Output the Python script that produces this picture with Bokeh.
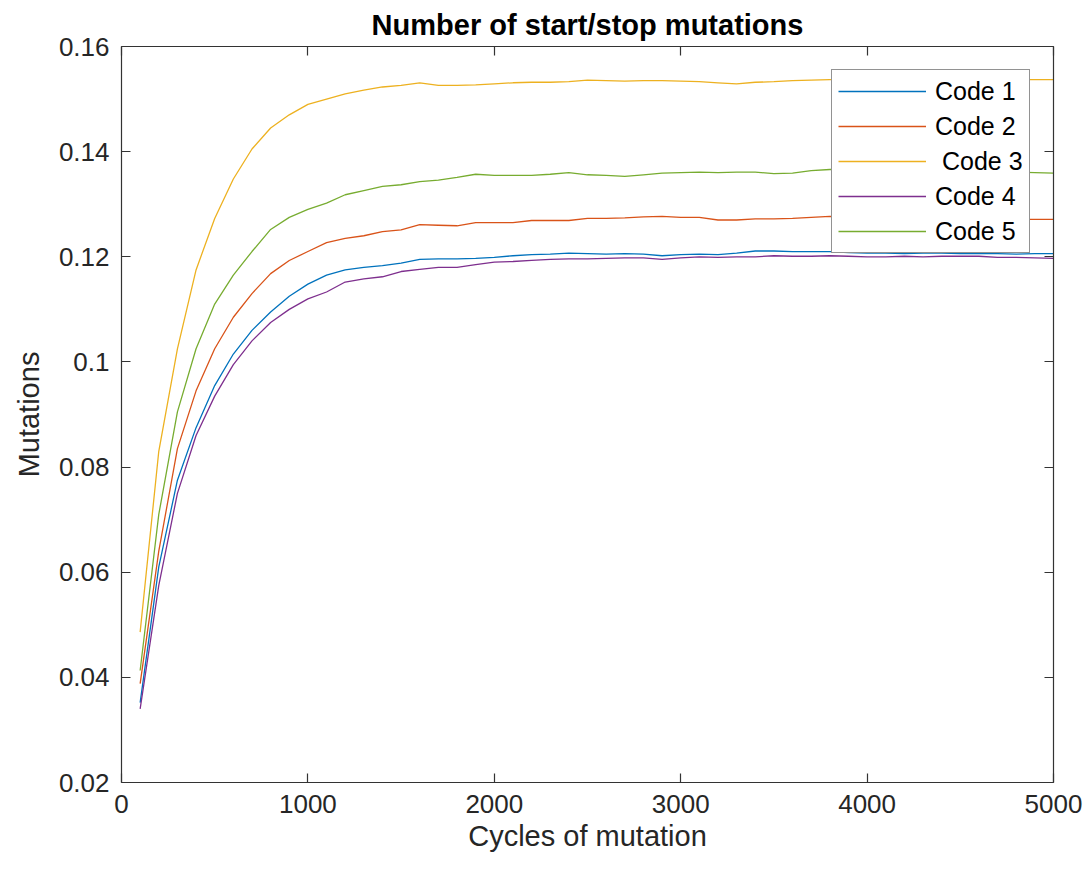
from bokeh.plotting import figure
from bokeh.models import (LinearAxis, FixedTicker, Legend, LegendItem,
                          CustomJSTickFormatter)
from bokeh.embed import file_html
from bokeh.resources import INLINE

cycles = [100, 200, 300, 400, 500, 600, 700, 800, 900, 1000,
          1100, 1200, 1300, 1400, 1500, 1600, 1700, 1800, 1900, 2000,
          2100, 2200, 2300, 2400, 2500, 2600, 2700, 2800, 2900, 3000,
          3100, 3200, 3300, 3400, 3500, 3600, 3700, 3800, 3900, 4000,
          4100, 4200, 4300, 4400, 4500, 4600, 4700, 4800, 4900, 5000]

code1 = [0.0352, 0.0610, 0.0775, 0.0875, 0.0955, 0.1015, 0.1060, 0.1095, 0.1125, 0.1148,
         0.1165, 0.1175, 0.1180, 0.1183, 0.1188, 0.1195, 0.1196, 0.1196, 0.1197, 0.1199,
         0.1202, 0.1204, 0.1205, 0.1207, 0.1206, 0.1205, 0.1206, 0.1205, 0.1202, 0.1204,
         0.1205, 0.1204, 0.1207, 0.1211, 0.1211, 0.1210, 0.1210, 0.1210, 0.1208, 0.1207,
         0.1207, 0.1206, 0.1207, 0.1207, 0.1206, 0.1206, 0.1206, 0.1205, 0.1206, 0.1206]

code2 = [0.0388, 0.0640, 0.0835, 0.0945, 0.1025, 0.1085, 0.1130, 0.1168, 0.1193, 0.1210,
         0.1227, 0.1235, 0.1240, 0.1248, 0.1251, 0.1261, 0.1260, 0.1259, 0.1265, 0.1265,
         0.1265, 0.1269, 0.1269, 0.1269, 0.1273, 0.1273, 0.1274, 0.1276, 0.1277, 0.1275,
         0.1275, 0.1270, 0.1270, 0.1272, 0.1272, 0.1273, 0.1275, 0.1277, 0.1276, 0.1275,
         0.1275, 0.1274, 0.1274, 0.1273, 0.1273, 0.1272, 0.1272, 0.1271, 0.1271, 0.1271]

code3 = [0.0486, 0.0830, 0.1025, 0.1175, 0.1273, 0.1348, 0.1405, 0.1445, 0.1470, 0.1490,
         0.1500, 0.1510, 0.1517, 0.1523, 0.1526, 0.1531, 0.1526, 0.1526, 0.1527, 0.1529,
         0.1531, 0.1532, 0.1532, 0.1533, 0.1536, 0.1535, 0.1534, 0.1535, 0.1535, 0.1534,
         0.1533, 0.1531, 0.1529, 0.1532, 0.1533, 0.1535, 0.1536, 0.1537, 0.1537, 0.1537,
         0.1536, 0.1537, 0.1537, 0.1538, 0.1537, 0.1537, 0.1538, 0.1537, 0.1537, 0.1537]

code4 = [0.0340, 0.0575, 0.0750, 0.0860, 0.0935, 0.0995, 0.1040, 0.1075, 0.1100, 0.1120,
         0.1133, 0.1152, 0.1158, 0.1162, 0.1172, 0.1176, 0.1180, 0.1180, 0.1185, 0.1190,
         0.1191, 0.1193, 0.1195, 0.1196, 0.1196, 0.1197, 0.1198, 0.1198, 0.1195, 0.1198,
         0.1200, 0.1199, 0.1200, 0.1200, 0.1202, 0.1201, 0.1201, 0.1202, 0.1201, 0.1200,
         0.1200, 0.1201, 0.1200, 0.1201, 0.1201, 0.1201, 0.1199, 0.1199, 0.1198, 0.1197]

code5 = [0.0413, 0.0710, 0.0905, 0.1025, 0.1110, 0.1165, 0.1210, 0.1252, 0.1275, 0.1290,
         0.1302, 0.1318, 0.1326, 0.1334, 0.1337, 0.1343, 0.1346, 0.1351, 0.1357, 0.1355,
         0.1355, 0.1355, 0.1357, 0.1360, 0.1356, 0.1355, 0.1353, 0.1356, 0.1359, 0.1360,
         0.1361, 0.1360, 0.1361, 0.1361, 0.1358, 0.1359, 0.1364, 0.1366, 0.1366, 0.1365,
         0.1365, 0.1364, 0.1364, 0.1363, 0.1363, 0.1362, 0.1362, 0.1361, 0.1360, 0.1359]

series_labels = ["Code 1", "Code 2", " Code 3", "Code 4", "Code 5"]
series_colors = ["#0072BD", "#D95319", "#EDB120", "#7E2F8E", "#77AC30"]

x_ticks = [0, 1000, 2000, 3000, 4000, 5000]
x_tick_labels = ["0", "1000", "2000", "3000", "4000", "5000"]
y_ticks = [0.02, 0.04, 0.06, 0.08, 0.1, 0.12, 0.14, 0.16]
y_tick_labels = ["0.02", "0.04", "0.06", "0.08", "0.1", "0.12", "0.14", "0.16"]

FONT = "Liberation Sans"
AX_COLOR = "#333333"
TXT_COLOR = "#262626"

p = figure(width=1083, height=862, x_range=(0, 5000), y_range=(0.02, 0.16),
           output_backend="svg", toolbar_location=None,
           x_axis_location=None, y_axis_location=None,
           min_border_left=121, min_border_right=30,
           min_border_top=46, min_border_bottom=80)
p.grid.visible = False
p.outline_line_color = None
p.background_fill_color = "white"
p.border_fill_color = "white"

p.title.text = "Number of start/stop mutations"
p.title.align = "center"
p.title.text_font = FONT
p.title.text_font_size = "29px"
p.title.text_font_style = "bold"
p.title.text_color = "#000000"
p.title.standoff = 12
p.title.offset = 0


def style_axis(ax, ticks, labels=None, hide=False):
    ax.ticker = FixedTicker(ticks=ticks)
    ax.axis_line_color = AX_COLOR
    ax.axis_line_width = 1.2
    ax.major_tick_line_color = AX_COLOR
    ax.major_tick_line_width = 1.2
    ax.major_tick_in = 9
    ax.major_tick_out = 0
    ax.minor_tick_line_color = None
    ax.major_label_text_font = FONT
    ax.major_label_text_color = TXT_COLOR
    ax.axis_label_text_font = FONT
    ax.axis_label_text_color = TXT_COLOR
    ax.axis_label_text_font_style = "normal"
    if hide:
        ax.formatter = CustomJSTickFormatter(code="return ''")
        ax.major_label_text_font_size = "1px"
        ax.major_label_standoff = 0
    else:
        ax.major_label_overrides = {t: s for t, s in zip(ticks, labels)}
        ax.major_label_text_font_size = "26px"


xb = LinearAxis(axis_label="Cycles of mutation")
style_axis(xb, x_ticks, x_tick_labels)
xb.major_label_standoff = 12
xb.axis_label_standoff = 4
xb.axis_label_text_font_size = "29px"
p.add_layout(xb, "below")

yl = LinearAxis(axis_label="Mutations")
style_axis(yl, y_ticks, y_tick_labels)
yl.major_label_standoff = 12
yl.axis_label_standoff = 11
yl.axis_label_text_font_size = "29px"
p.add_layout(yl, "left")

xt = LinearAxis()
style_axis(xt, x_ticks, hide=True)
p.add_layout(xt, "above")

yr = LinearAxis()
style_axis(yr, y_ticks, hide=True)
p.add_layout(yr, "right")

series = [code1, code2, code3, code4, code5]
items = []
for ys, lab, col in zip(series, series_labels, series_colors):
    r = p.line(cycles, ys, line_color=col, line_width=1.3)
    items.append(LegendItem(label=lab, renderers=[r]))

legend = Legend(items=items, location=(710, 529), margin=0,
                padding=6, spacing=5,
                glyph_width=88, glyph_height=30, label_height=30,
                label_standoff=9,
                label_text_font=FONT, label_text_font_size="25px",
                label_text_color="#000000",
                border_line_color="#262626", border_line_width=1.2,
                background_fill_color="white", background_fill_alpha=1.0)
p.add_layout(legend, "center")

open("out.html", "w").write(file_html(p, INLINE))
